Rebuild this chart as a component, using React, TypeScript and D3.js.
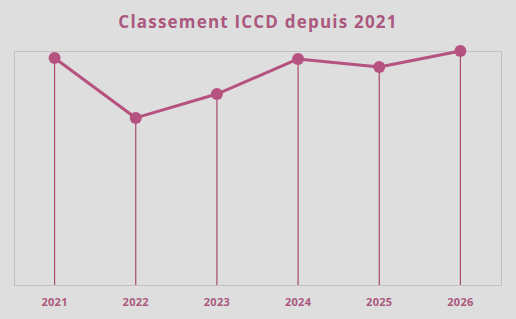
import React, { useEffect, useRef } from 'react';
import * as d3 from 'd3';

const years = ['2021', '2022', '2023', '2024', '2025', '2026'];
const scores = [97, 71.4, 81.6, 96.6, 93.2, 100];

const TITLE = 'Classement ICCD depuis 2021';
const ACCENT = '#b5527f';
const TEXT = '#ab587e';

export default function App() {
  const svgRef = useRef<SVGSVGElement>(null);

  useEffect(() => {
    if (!svgRef.current) return;
    const width = 516;
    const height = 319;
    const margin = { top: 51, right: 15, bottom: 34, left: 14 };

    const svg = d3.select(svgRef.current);
    svg.selectAll('*').remove();

    svg.append('rect')
      .attr('width', width)
      .attr('height', height)
      .attr('fill', '#dedede');

    const x = d3.scaleBand()
      .domain(years)
      .range([margin.left, width - margin.right]);

    const y = d3.scaleLinear()
      .domain([0, 100])
      .range([height - margin.bottom, margin.top]);

    // plot area frame
    svg.append('rect')
      .attr('x', margin.left + 0.5)
      .attr('y', margin.top + 0.5)
      .attr('width', width - margin.left - margin.right)
      .attr('height', height - margin.top - margin.bottom)
      .attr('fill', 'none')
      .attr('stroke', '#c2c2c2')
      .attr('stroke-width', 1);

    const data = years.map((year, i) => ({ year, value: scores[i] }));
    const cx = (d: { year: string }) => x(d.year)! + x.bandwidth() / 2;

    // drop lines
    svg.selectAll('.drop')
      .data(data)
      .enter()
      .append('line')
      .attr('class', 'drop')
      .attr('x1', cx)
      .attr('x2', cx)
      .attr('y1', d => y(d.value))
      .attr('y2', y(0))
      .attr('stroke', '#a8476f')
      .attr('stroke-width', 1.2);

    const line = d3.line<{ year: string; value: number }>()
      .x(cx)
      .y(d => y(d.value));

    svg.append('path')
      .datum(data)
      .attr('d', line)
      .attr('fill', 'none')
      .attr('stroke', ACCENT)
      .attr('stroke-width', 3)
      .attr('stroke-linejoin', 'round');

    svg.selectAll('.dot')
      .data(data)
      .enter()
      .append('circle')
      .attr('class', 'dot')
      .attr('cx', cx)
      .attr('cy', d => y(d.value))
      .attr('r', 6)
      .attr('fill', ACCENT);

    // x axis labels
    const xAxis = svg.append('g')
      .attr('transform', `translate(0,${height - margin.bottom})`)
      .call(d3.axisBottom(x).tickSize(0).tickPadding(13));
    xAxis.select('.domain').remove();
    xAxis.selectAll('text')
      .style('font-family', "'Open Sans', sans-serif")
      .style('font-weight', 'bold')
      .style('font-size', '11px')
      .style('letter-spacing', '0.3px')
      .style('fill', TEXT);

    svg.append('text')
      .attr('x', width / 2)
      .attr('y', 28)
      .attr('text-anchor', 'middle')
      .text(TITLE)
      .style('font-family', "'Open Sans', sans-serif")
      .style('font-weight', 'bold')
      .style('font-size', '17px')
      .style('letter-spacing', '1.2px')
      .style('fill', TEXT);
  }, []);

  return (
    <svg
      ref={svgRef}
      width={516}
      height={319}
      style={{ position: 'absolute', left: 0, top: 0 }}
    />
  );
}
